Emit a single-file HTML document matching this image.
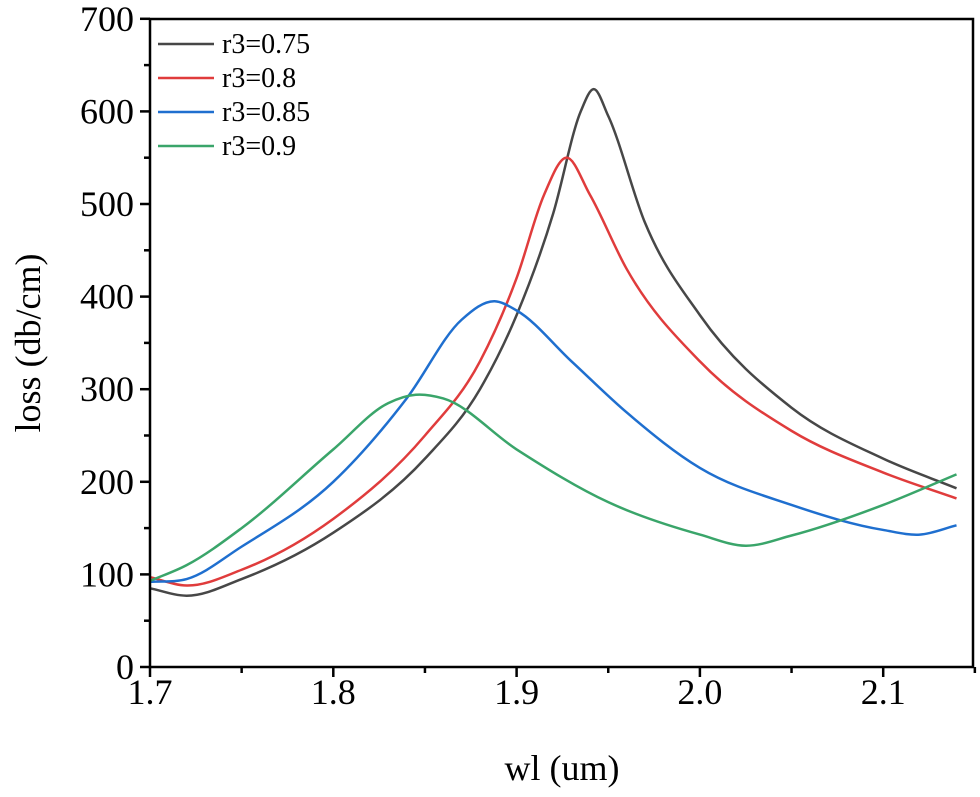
<!DOCTYPE html>
<html><head><meta charset="utf-8"><style>
body{margin:0;background:#fff}
svg text{font-family:"Liberation Serif",serif;fill:#000}
</style></head><body>
<svg id="chart" width="980" height="792" xmlns="http://www.w3.org/2000/svg">
<g id="axes"></g><g id="series"></g><g id="legend"></g>
<rect x="150" y="19" width="823" height="648" fill="none" stroke="#000" stroke-width="2.5"/>
<text x="562" y="780" font-size="36" text-anchor="middle">wl (um)</text>
<text transform="translate(40,343) rotate(-90)" font-size="36" text-anchor="middle">loss (db/cm)</text>
</svg>
<script>
const seriesNames=["r3=0.75","r3=0.8","r3=0.85","r3=0.9"];
const colors=["#474747","#e03c3c","#1f6fcf","#3aa56a"];
const xTicks=[1.7,1.8,1.9,2.0,2.1];
const xTickLabels=["1.7","1.8","1.9","2.0","2.1"];
const yTicks=[0,100,200,300,400,500,600,700];
const wl075=[1.70,1.72,1.75,1.8,1.85,1.88,1.9,1.92,1.935,1.942,1.95,1.97,2.0,2.05,2.1,2.14];
const loss075=[85,77,95,145,225,300,380,490,600,624,595,480,380,280,225,193];
const wl080=[1.70,1.72,1.75,1.8,1.85,1.88,1.9,1.915,1.927,1.94,1.96,2.0,2.05,2.1,2.14];
const loss080=[97,88,105,160,250,330,420,510,550,510,430,330,255,210,182];
const wl085=[1.70,1.72,1.75,1.8,1.84,1.87,1.888,1.9,1.93,1.96,2.0,2.05,2.1,2.12,2.14];
const loss085=[92,95,130,200,290,375,395,385,330,275,215,175,148,143,153];
const wl090=[1.70,1.72,1.75,1.8,1.83,1.845,1.86,1.9,1.95,2.0,2.025,2.05,2.1,2.14];
const loss090=[93,110,150,235,285,294,290,235,178,143,131,142,175,208];
const X=v=>150+(v-1.7)/0.1*183.3;
const Y=v=>667-v/100*92.6;
const NS="http://www.w3.org/2000/svg";
function mk(t,a,p){const e=document.createElementNS(NS,t);for(const k in a)e.setAttribute(k,a[k]);p.appendChild(e);return e;}
const ax=document.getElementById('axes');
xTicks.forEach((v,i)=>{
 const l=mk('line',{x1:X(v),x2:X(v),y1:667,y2:677,stroke:'#000','stroke-width':2.5},ax);
 
 
 const m=mk('line',{x1:X(v+0.05),x2:X(v+0.05),y1:667,y2:673,stroke:'#000','stroke-width':2.5},ax);
 
 
 const t=mk('text',{x:X(v),y:704,'font-size':36,'text-anchor':'middle'},ax);t.textContent=xTickLabels[i];
 
 
});
yTicks.forEach(v=>{
 const l=mk('line',{x1:140,x2:150,y1:Y(v),y2:Y(v),stroke:'#000','stroke-width':2.5},ax);
 
 
 if(v<700){const m=mk('line',{x1:144,x2:150,y1:Y(v+50),y2:Y(v+50),stroke:'#000','stroke-width':2.5},ax);
 
 }
 const t=mk('text',{x:134,y:Y(v)+12,'font-size':36,'text-anchor':'end'},ax);t.textContent=String(v);
 
 
});
function path(xs,ys){
 const p=xs.map((x,i)=>[X(x),Y(ys[i])]);const n=p.length;const m=[];
 for(let i=0;i<n;i++){
  if(i===0)m.push((p[1][1]-p[0][1])/(p[1][0]-p[0][0]));
  else if(i===n-1)m.push((p[i][1]-p[i-1][1])/(p[i][0]-p[i-1][0]));
  else{const h0=p[i][0]-p[i-1][0],h1=p[i+1][0]-p[i][0];
   const d0=(p[i][1]-p[i-1][1])/h0,d1=(p[i+1][1]-p[i][1])/h1;
   m.push((d0*h1+d1*h0)/(h0+h1));}
 }
 let d='M'+p[0][0]+','+p[0][1];
 for(let i=0;i<n-1;i++){const h=p[i+1][0]-p[i][0];
  d+=' C'+(p[i][0]+h/3)+','+(p[i][1]+m[i]*h/3)+' '+(p[i+1][0]-h/3)+','+(p[i+1][1]-m[i+1]*h/3)+' '+p[i+1][0]+','+p[i+1][1];}
 return d;}
const data=[[wl075,loss075],[wl080,loss080],[wl085,loss085],[wl090,loss090]];
const sg=document.getElementById('series'),lg=document.getElementById('legend');
data.forEach((s,i)=>{
 const p=mk('path',{d:path(s[0],s[1]),fill:'none',stroke:colors[i],'stroke-width':2.5},sg);
 
 
 const y=44+i*34;
 const l=mk('line',{x1:158,x2:214,y1:y,y2:y,stroke:colors[i],'stroke-width':2.5},lg);
 
 
 const t=mk('text',{x:222,y:y+9,'font-size':28},lg);t.textContent=seriesNames[i];
 
 
});
</script>
</body></html>
